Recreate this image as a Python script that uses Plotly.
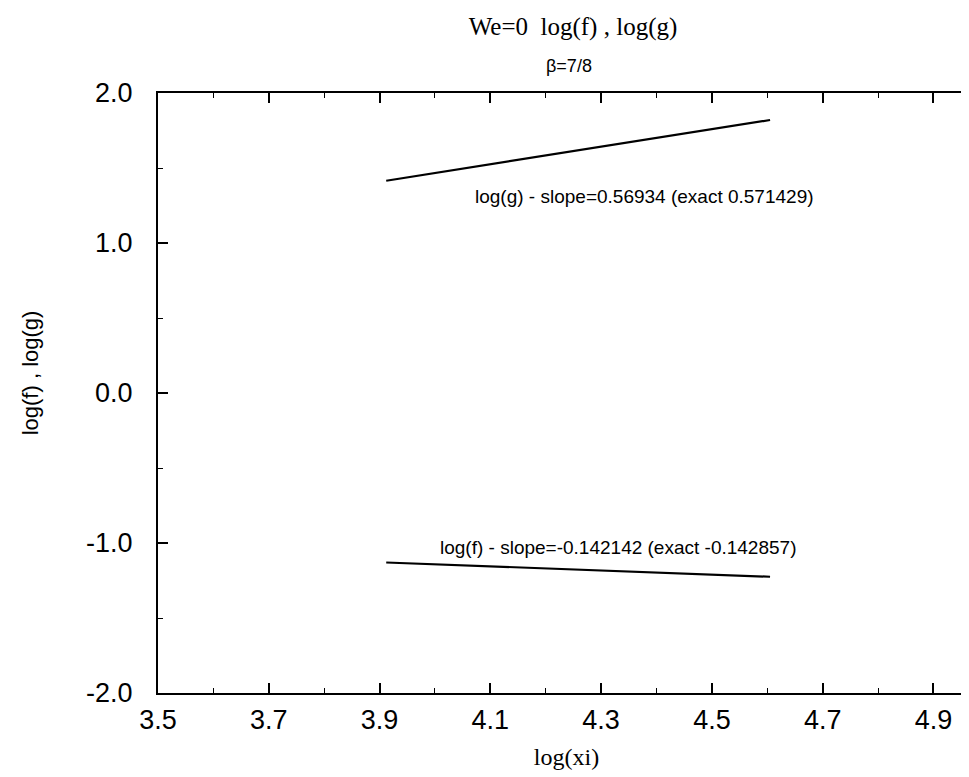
import plotly.graph_objects as go

# Data
xi_log = [3.912, 4.605]
log_g = [1.415, 1.82]
log_f = [-1.13, -1.225]

x_tick_vals = [3.5, 3.7, 3.9, 4.1, 4.3, 4.5, 4.7, 4.9]
x_tick_text = ["3.5", "3.7", "3.9", "4.1", "4.3", "4.5", "4.7", "4.9"]
y_tick_vals = [2.0, 1.0, 0.0, -1.0, -2.0]
y_tick_text = ["2.0", "1.0", "0.0", "-1.0", "-2.0"]

g_label = "log(g) - slope=0.56934 (exact 0.571429)"
f_label = "log(f) - slope=-0.142142 (exact -0.142857)"

W, H = 969, 777
ML, MR, MT, MB = 150, 0, 85, 92
PW, PH = W - ML - MR, H - MT - MB


def px_x(px):
    return (px - ML) / PW


def px_y(py):
    return 1 - (py - MT) / PH


fig = go.Figure()
fig.add_trace(go.Scatter(x=xi_log, y=log_g, mode="lines",
                         line=dict(color="black", width=2.2), showlegend=False))
fig.add_trace(go.Scatter(x=xi_log, y=log_f, mode="lines",
                         line=dict(color="black", width=2.2), showlegend=False))

sans = "Liberation Sans, Arial, sans-serif"
serif = "Liberation Serif, Times New Roman, serif"

fig.update_layout(
    width=W, height=H,
    margin=dict(l=ML, r=MR, t=MT, b=MB),
    paper_bgcolor="white", plot_bgcolor="white",
    title=dict(text="We=0  log(f) , log(g)", x=565 / W, xanchor="center",
               y=1 - 18 / H, yanchor="middle", font=dict(family=serif, size=25, color="black")),
    xaxis=dict(range=[3.5, 4.975], tickvals=x_tick_vals, ticktext=x_tick_text,
               ticks="inside", ticklen=10, tickwidth=1.5, tickcolor="black",
               showline=True, linecolor="black", linewidth=2, mirror="ticks",
               showgrid=False, zeroline=False,
               tickfont=dict(family=sans, size=27, color="black"),
               ticklabelstandoff=2,
               minor=dict(dtick=0.1, tick0=3.5, ticks="inside", ticklen=5, tickwidth=1.2, tickcolor="black"),
               title=dict(text="log(xi)", font=dict(family=serif, size=24, color="black"), standoff=14)),
    yaxis=dict(range=[-2.0, 2.0], tickvals=y_tick_vals, ticktext=y_tick_text,
               ticks="inside", ticklen=10, tickwidth=1.5, tickcolor="black",
               showline=True, linecolor="black", linewidth=2, mirror="ticks",
               showgrid=False, zeroline=False,
               tickfont=dict(family=sans, size=27, color="black"),
               ticklabelstandoff=18,
               minor=dict(dtick=0.5, tick0=0, ticks="inside", ticklen=5, tickwidth=1.2, tickcolor="black")),
    annotations=[
        dict(text="\u03b2=7/8", x=px_x(562), y=px_y(58), xref="paper", yref="paper",
             xanchor="center", yanchor="middle", showarrow=False,
             font=dict(family=sans, size=18, color="black")),
        dict(text="log(f) , log(g)", x=px_x(22), y=px_y(365), xref="paper", yref="paper",
             xanchor="center", yanchor="middle", showarrow=False, textangle=-90,
             font=dict(family=sans, size=22, color="black")),
        dict(text=g_label, x=4.379, y=1.313, xref="x", yref="y",
             xanchor="center", yanchor="middle", showarrow=False,
             font=dict(family=sans, size=19, color="black")),
        dict(text=f_label, x=4.331, y=-1.033, xref="x", yref="y",
             xanchor="center", yanchor="middle", showarrow=False,
             font=dict(family=sans, size=19, color="black")),
    ],
)

fig.write_html("out.html")
